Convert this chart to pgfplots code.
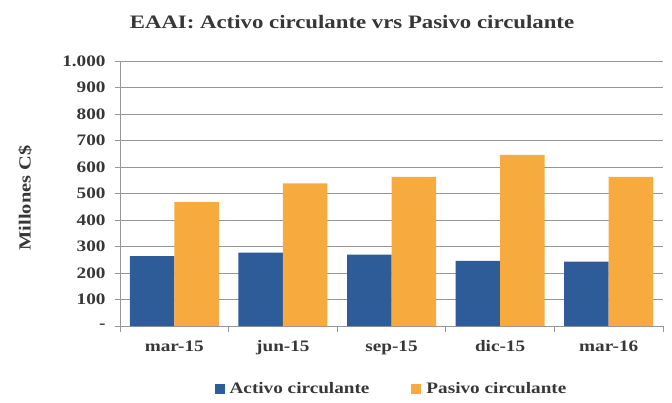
\documentclass[border=0pt]{standalone}
\usepackage{fontspec}
\setmainfont{Liberation Serif}[FakeStretch=1.2]
\usepackage{pgfplots}
\pgfplotsset{compat=1.18}
\definecolor{activo}{RGB}{46,92,152}
\definecolor{pasivo}{RGB}{247,170,62}
\definecolor{gridc}{RGB}{150,150,150}
\definecolor{txt}{RGB}{55,55,55}
\begin{document}
\begin{tikzpicture}[x=1pt,y=1pt]
\begin{axis}[name=ax, at={(0,0)}, anchor=south west, scale only axis,
 width=543pt, height=265pt,
 ybar=0pt, bar width=44.5pt,
 xmin=-0.5, xmax=4.5, ymin=0, ymax=1000, enlargelimits=false,
 xtick={0,1,2,3,4}, xticklabels={mar-15,jun-15,sep-15,dic-15,mar-16},
 major x tick style={draw=none},
 minor xtick={-0.5,0.5,1.5,2.5,3.5,4.5},
 minor x tick style={gridc, line width=0.8pt},
 ytick={0,100,200,300,400,500,600,700,800,900,1000},
 yticklabels={-,100,200,300,400,500,600,700,800,900,1.000},
 major y tick style={gridc, line width=0.8pt},
 tick align=outside, major tick length=5pt, minor tick length=6pt,
 ymajorgrids, grid style={gridc, line width=0.7pt},
 axis lines*=left, axis line style={gridc, line width=0.8pt},
 yticklabel style={font=\fontsize{16}{18}\selectfont\bfseries, text=txt, xshift=-6pt},
 xticklabel style={font=\fontsize{16}{18}\selectfont\bfseries, text=txt, yshift=-6pt},
 legend style={at={(0.5,-0.236)}, anchor=center, draw=none, fill=none,
   legend columns=2, font=\fontsize{16}{18}\selectfont\bfseries, text=txt,
   /tikz/every odd column/.append style={column sep=3pt},
   /tikz/every even column/.append style={column sep=40pt}},
]
\addplot[fill=activo, draw=none, legend image code/.code={\fill[activo] (0pt,-5pt) rectangle (10pt,5pt);}]
 coordinates {(0,264) (1,277) (2,269) (3,246) (4,243)};
\addplot[fill=pasivo, draw=none, legend image code/.code={\fill[pasivo] (0pt,-5pt) rectangle (10pt,5pt);}]
 coordinates {(0,467) (1,538) (2,563) (3,646) (4,563)};
\legend{Activo circulante, Pasivo circulante}
\end{axis}
\node[font=\fontsize{19}{22}\selectfont\bfseries, text=txt] at (232,304) {EAAI: Activo circulante vrs Pasivo circulante};
\node[rotate=90, font=\fontsize{17}{20}\selectfont\bfseries, text=txt] at (-95,128) {Millones C\$};
\pgfresetboundingbox
\path (-120,-76) rectangle (552,326);
\end{tikzpicture}
\end{document}
